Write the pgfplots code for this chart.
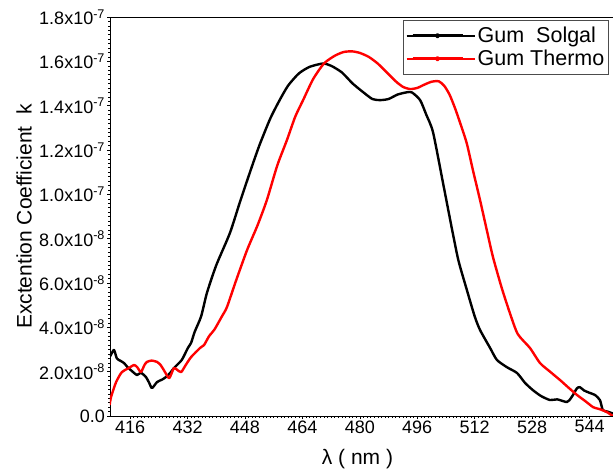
\documentclass[border=0pt]{standalone}
\usepackage{fontspec}
\setmainfont{Liberation Sans}
\usepackage{pgfplots}
\pgfplotsset{compat=1.18}
\begin{document}
\begin{tikzpicture}
\useasboundingbox (0,0) rectangle (613bp,472bp);
\begin{axis}[
  at={(110bp,56bp)}, anchor=south west,
  scale only axis, width=505bp, height=399bp,
  xmin=410.4, xmax=551.1, ymin=0, ymax=18,
  xtick={416,432,...,544},
  xticklabels={416,432,448,464,480,496,512,528,544},
  ytick={0,2,...,18},
  yticklabels={0.0,
    2.0x10\textsuperscript{-8},
    4.0x10\textsuperscript{-8},
    6.0x10\textsuperscript{-8},
    8.0x10\textsuperscript{-8},
    1.0x10\textsuperscript{-7},
    1.2x10\textsuperscript{-7},
    1.4x10\textsuperscript{-7},
    1.6x10\textsuperscript{-7},
    1.8x10\textsuperscript{-7}},
  minor x tick num=15, minor y tick num=9,
  xtick pos=bottom, ytick pos=left,
  tick align=outside, major tick length=3bp, minor tick length=2bp,
  tick style={black, line width=0.5pt},
  axis line style={line width=0.8pt},
  ticklabel style={font=\fontsize{18bp}{21bp}\selectfont},
  xticklabel style={yshift=2bp},
  yticklabel style={xshift=1.5bp},
  label style={font=\fontsize{21bp}{24bp}\selectfont},
  xlabel={λ ( nm )},
  ylabel={Exctention Coefficient\ \ k},
  xlabel style={at={(axis description cs:0.49,-0.107)}, anchor=center},
  ylabel style={at={(axis description cs:-0.170,0.5)}, anchor=center},
  legend style={at={(axis description cs:0.580,0.993)}, anchor=north west,
    draw=black!70, line width=0.8pt, font=\fontsize{21.5bp}{25bp}\selectfont,
    inner xsep=2bp, inner ysep=5bp, row sep=2bp},
  legend cell align=left,
  legend image code/.code={\path (-6bp,0bp) -- (62bp,0bp);
    \draw[#1, line width=3bp] (0bp,0bp) -- (50bp,0bp);
    \fill[#1] (25bp,0bp) circle (1.5bp);},
]
\addplot[black, line width=2.4bp, line join=round, smooth, tension=0.4] coordinates {
(410.5,2.7) (411.5,2.98) (412.3,2.6) (413.2,2.5) (414.3,2.39) (415.3,2.2)
(416.2,2.07) (417.9,1.85) (419,1.95) (420.4,1.76) (421.3,1.5) (422.1,1.26)
(423.5,1.53) (425,1.65) (426,1.76) (427.2,1.95) (428.2,2.16) (430.4,2.53)
(432.1,3.07) (433,3.3) (434,3.8) (435.8,4.5) (437.4,5.55) (440,6.8)
(443.8,8.25) (446.5,9.6) (449.4,11.0) (452,12.2) (455,13.4) (457.5,14.2)
(460,14.9) (463,15.45) (466,15.75) (469.7,15.9) (472,15.8) (475,15.5)
(478,15.0) (481,14.6) (483.5,14.3) (485.6,14.25) (488,14.3) (490.5,14.5)
(493,14.6) (494.5,14.6) (496.8,14.25) (498.5,13.6) (500.4,12.8) (503.2,10.5)
(505.9,8.25) (507.5,7.0) (509.8,5.7) (512,4.5) (513.5,3.88) (516.3,3.07)
(518.2,2.53) (521,2.2) (523.8,1.94) (526,1.5) (528.2,1.17) (530.5,0.9)
(533,0.72) (535,0.75) (537.7,0.63) (538.8,0.8) (539.4,0.95) (540.5,1.25)
(541.3,1.3) (542.5,1.15) (544.1,1.04) (545.5,0.95) (546.9,0.72) (547.7,0.27)
(549,0.2) (550.2,0.13) (551,0.1)
};
\addlegendentry{Gum\ \ Solgal}
\addplot[red, line width=2.4bp, line join=round, smooth, tension=0.4] coordinates {
(410.3,0.5) (410.7,0.86) (412.1,1.53) (413.7,1.98) (415.5,2.15) (417.1,2.3)
(418,2.2) (419,1.98) (420,2.3) (420.7,2.44) (422,2.5) (423.5,2.44)
(424.5,2.3) (425.4,2.07) (426.8,1.71) (427.5,1.9) (428.2,2.16) (429,2.1)
(430.2,1.98) (431.5,2.3) (433,2.66) (435.5,3.07) (436.6,3.2) (438,3.6)
(439.5,3.9) (441.6,4.5) (443,4.92) (445.5,6.1) (448.6,7.49) (451.5,8.6)
(454.1,9.74) (457,11.3) (459.7,12.45) (462,13.5) (464.2,14.25) (467,15.2)
(470,15.9) (473,16.25) (475.5,16.42) (477.8,16.45) (480,16.38) (482.5,16.2)
(485,15.9) (487.5,15.5) (490,15.1) (492,14.85) (494,14.75) (496,14.8)
(498,14.95) (500,15.08) (502,15.1) (503.5,14.9) (505,14.5) (506.5,13.9)
(508,13.2) (509.8,12.3) (511.5,11.1) (513.5,9.74) (515.5,8.3) (517.1,7.17)
(519.5,5.8) (521.8,4.65) (524,3.7) (527.4,3.07) (530.2,2.39) (533,2.0)
(535.8,1.62) (538,1.3) (540.5,0.95) (543,0.65) (545,0.4) (547,0.3)
(548.8,0.18) (550.5,0.0)
};
\addlegendentry{Gum Thermo}
\end{axis}
\end{tikzpicture}
\end{document}
